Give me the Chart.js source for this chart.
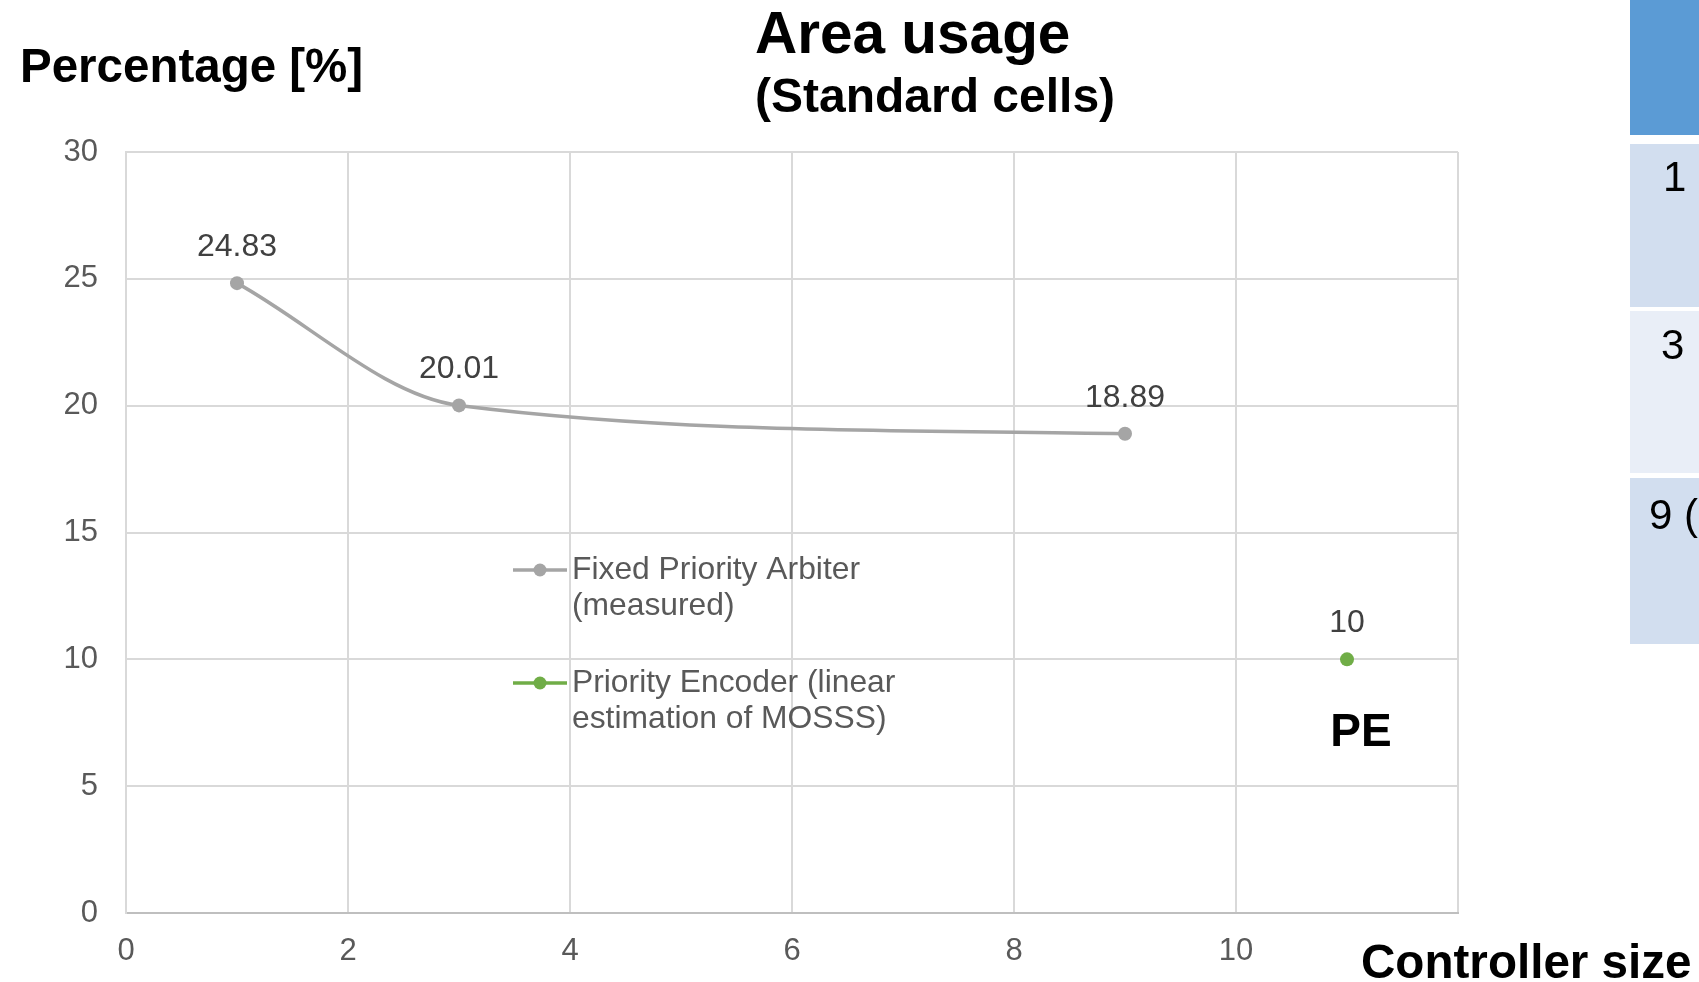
<!DOCTYPE html>
<html>
<head>
<meta charset="utf-8">
<script src="https://cdn.jsdelivr.net/npm/chart.js@4"></script>
<style>
    html, body { margin: 0; padding: 0; background: #fff; }
    body { width: 1699px; height: 982px; position: relative; overflow: hidden; font-family: Arial, 'Liberation Sans', sans-serif; }
    #wrap { position: absolute; left: 0; top: 0; width: 1699px; height: 982px; }
    .txt { position: absolute; font-weight: bold; color: #000; white-space: nowrap; line-height: 1; }
    .cell { position: absolute; left: 1630px; width: 80px; }
    .cell span { position: absolute; font-size: 42px; color: #000; line-height: 1; }
</style>
</head>
<body>
<div id="wrap"><canvas id="areaChart" width="1699" height="982"></canvas></div>

<div class="txt" style="left:20px; top:42px; font-size:47.5px;">Percentage [%]</div>
<div class="txt" style="left:755px; top:4px; font-size:58.5px;">Area usage</div>
<div class="txt" style="left:755px; top:72px; font-size:48px;">(Standard cells)</div>
<div class="txt" style="left:1361px; top:938px; font-size:47.6px;">Controller size</div>

<div class="cell" style="top:0; height:135px; background:#5B9BD5;"></div>
<div class="cell" style="top:144px; height:163px; background:#D2DEEF;"><span style="left:33px; top:12px;">1</span></div>
<div class="cell" style="top:311px; height:162px; background:#E9EEF7;"><span style="left:31px; top:13px;">3</span></div>
<div class="cell" style="top:478px; height:166px; background:#D2DEEF;"><span style="left:19px; top:16px;">9 (</span></div>

<script>
// Data
const fpaX = [1, 3, 9];
const fpaY = [24.83, 20.01, 18.89];
const peX = [11];
const peY = [10];
const fpaLabel = ['Fixed Priority Arbiter', '(measured)'];
const peLabel = ['Priority Encoder (linear', 'estimation of MOSSS)'];
const peTag = 'PE';

const GREY = '#A5A5A5';
const GREEN = '#70AD47';
const FONT = "Arial, 'Liberation Sans', sans-serif";

// Value labels above every point
const valueLabels = {
    id: 'valueLabels',
    afterDatasetsDraw(chart) {
        const ctx = chart.ctx;
        ctx.save();
        ctx.font = '32px ' + FONT;
        ctx.fillStyle = '#404040';
        ctx.textAlign = 'center';
        ctx.textBaseline = 'middle';
        chart.data.datasets.forEach((ds, i) => {
            chart.getDatasetMeta(i).data.forEach((pt, j) => {
                ctx.fillText(String(ds.data[j].y), pt.x, pt.y - 36);
            });
        });
        // "PE" tag under the encoder point
        const pe = chart.getDatasetMeta(1).data[0];
        ctx.font = 'bold 46px ' + FONT;
        ctx.fillStyle = '#000';
        ctx.fillText(peTag, pe.x + 14, pe.y + 74);
        ctx.restore();
    }
};

// Legend drawn inside the plot, two lines per entry
const innerLegend = {
    id: 'innerLegend',
    afterDraw(chart) {
        const ctx = chart.ctx;
        const a = chart.chartArea;
        const x0 = a.left + 387;
        const rows = [a.top + 418, a.top + 531];
        ctx.save();
        ctx.font = '31.8px ' + FONT;
        ctx.textBaseline = 'middle';
        ctx.textAlign = 'left';
        chart.data.datasets.forEach((ds, i) => {
            const y = rows[i];
            ctx.strokeStyle = ds.borderColor;
            ctx.lineWidth = 3.5;
            ctx.beginPath();
            ctx.moveTo(x0, y);
            ctx.lineTo(x0 + 54, y);
            ctx.stroke();
            ctx.fillStyle = ds.backgroundColor;
            ctx.beginPath();
            ctx.arc(x0 + 27, y, 6.5, 0, Math.PI * 2);
            ctx.fill();
            ctx.fillStyle = '#595959';
            ds.label.forEach((line, k) => ctx.fillText(line, x0 + 59, y + k * 36));
        });
        ctx.restore();
    }
};

new Chart(document.getElementById('areaChart').getContext('2d'), {
    type: 'line',
    data: {
        datasets: [{
            label: fpaLabel,
            data: fpaX.map((x, i) => ({ x: x, y: fpaY[i] })),
            borderColor: GREY,
            backgroundColor: GREY,
            borderWidth: 3.5,
            cubicInterpolationMode: 'monotone',
            pointRadius: 7,
            pointBorderWidth: 0
        }, {
            label: peLabel,
            data: peX.map((x, i) => ({ x: x, y: peY[i] })),
            borderColor: GREEN,
            backgroundColor: GREEN,
            borderWidth: 3.5,
            pointRadius: 7,
            pointBorderWidth: 0
        }]
    },
    options: {
        responsive: false,
        animation: false,
        layout: {
            padding: { left: 0, top: 152, right: 241, bottom: 0 }
        },
        plugins: {
            legend: { display: false },
            tooltip: { enabled: false }
        },
        scales: {
            x: {
                type: 'linear',
                min: 0,
                max: 12,
                afterFit: (s) => { s.height = 69; },
                grid: { color: '#D9D9D9', lineWidth: 2, drawTicks: false },
                border: { color: '#BFBFBF', width: 2 },
                ticks: {
                    stepSize: 2,
                    padding: 20,
                    color: '#595959',
                    font: { family: FONT, size: 31 },
                    callback: (v) => (v > 10 ? '' : v)
                }
            },
            y: {
                min: 0,
                max: 30,
                afterFit: (s) => { s.width = 126; },
                grid: { color: '#D9D9D9', lineWidth: 2, drawTicks: false },
                border: { color: '#D9D9D9', width: 2 },
                ticks: {
                    stepSize: 5,
                    padding: 28,
                    color: '#595959',
                    font: { family: FONT, size: 31 }
                }
            }
        }
    },
    plugins: [valueLabels, innerLegend]
});
</script>
</body>
</html>
